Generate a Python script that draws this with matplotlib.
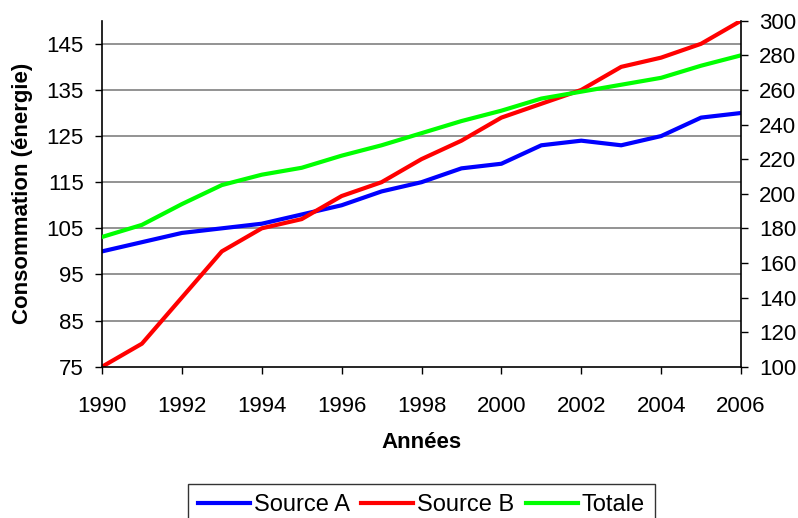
import matplotlib
matplotlib.use("Agg")
import matplotlib.pyplot as plt

plt.rcParams['font.family'] = ['Liberation Sans', 'DejaVu Sans']

# donnees
annees = list(range(1990, 2007))
source_a = [100, 102, 104, 105, 106, 108, 110, 113, 115, 118, 119, 123, 124, 123, 125, 129, 130]
source_b = [75, 80, 90, 100, 105, 107, 112, 115, 120, 124, 129, 132, 135, 140, 142, 145, 150]
totale = [175, 182, 194, 205, 211, 215, 222, 228, 235, 242, 248, 255, 259, 263, 267, 274, 280]

ticks_gauche = [75, 85, 95, 105, 115, 125, 135, 145]
ticks_droite = list(range(100, 301, 20))
ticks_x = list(range(1990, 2007, 2))

fs = 16
lw = 3

fig = plt.figure(figsize=(7.98, 5.18), dpi=100)
ax = fig.add_axes([0.1278, 0.292, 0.8008, 0.668])
ax2 = ax.twinx()

l1, = ax.plot(annees, source_a, color='#0000ff', lw=lw, label='Source A')
l2, = ax.plot(annees, source_b, color='#ff0000', lw=lw, label='Source B')
l3, = ax2.plot(annees, totale, color='#00ff00', lw=lw, label='Totale')

ax.set_xlim(1990, 2006)
ax.set_ylim(75, 150)
ax2.set_ylim(100, 300)

ax.set_yticks(ticks_gauche)
ax2.set_yticks(ticks_droite)
ax.set_xticks(ticks_x)

# grille horizontale (10 unites) + ligne du haut
for v in list(range(85, 151, 10)):
    ax.axhline(v, color='#808080', lw=1.2, zorder=0)

for a in (ax, ax2):
    a.spines['top'].set_visible(False)
    for s in ('left', 'right', 'bottom'):
        a.spines[s].set_color('black')
        a.spines[s].set_linewidth(1.2)

ax.spines['right'].set_visible(False)
ax2.spines['left'].set_visible(False)
ax2.spines['bottom'].set_visible(False)

ax.tick_params(axis='y', direction='out', length=5, width=1, labelsize=fs, pad=8)
ax.tick_params(axis='x', direction='out', length=5, width=1, labelsize=fs, pad=16)
ax2.tick_params(axis='y', direction='out', length=5, width=1, labelsize=fs, pad=8)

ax.set_ylabel('Consommation (énergie)', fontsize=fs, fontweight='bold', labelpad=10)
ax.set_xlabel('Années', fontsize=fs, fontweight='bold', labelpad=11)

leg = fig.legend(handles=[l1, l2, l3], loc='upper center', bbox_to_anchor=(0.528, 0.066),
                 ncol=3, fontsize=17, frameon=True, fancybox=False, handlelength=2.2,
                 handletextpad=0.15, columnspacing=0.5, borderpad=0.45, borderaxespad=0)
leg.get_frame().set_edgecolor('black')
leg.get_frame().set_linewidth(1)

fig.savefig('out.png', dpi=100)
